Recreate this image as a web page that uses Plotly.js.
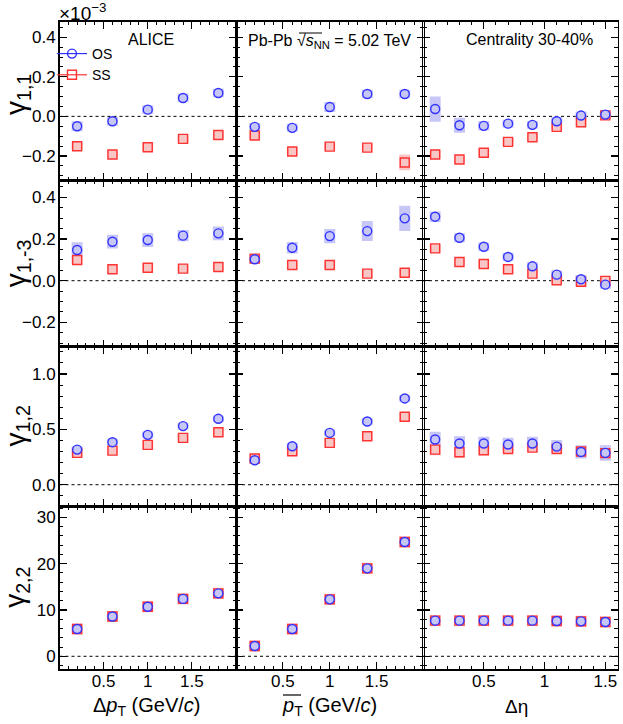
<!DOCTYPE html>
<html>
<head>
<meta charset="utf-8">
<script src="https://cdn.plot.ly/plotly-3.0.1.min.js"></script>
<style>html,body{margin:0;padding:0;background:#fff;}#chart{width:623px;height:724px;}</style>
</head>
<body>
<div id="chart"></div>
<script>
// ---------- data ----------
const xDpt  = [0.2, 0.6, 1.0, 1.4, 1.8];
const xPt   = [0.2, 0.6, 1.0, 1.4, 1.8];
const xDeta = [0.1, 0.3, 0.5, 0.7, 0.9, 1.1, 1.3, 1.5];

// gamma_{1,1} (x1e-3)
const g11DptOS  = [-0.050, -0.025, 0.034, 0.093, 0.118];
const g11DptOSsys = [0.025, 0.022, 0.022, 0.022, 0.022];
const g11DptSS  = [-0.151, -0.193, -0.156, -0.114, -0.094];
const g11DptSSsys = [0.02, 0.02, 0.02, 0.02, 0.02];
const g11PtOS   = [-0.053, -0.058, 0.047, 0.113, 0.113];
const g11PtOSsys = [0.02, 0.02, 0.025, 0.022, 0.022];
const g11PtSS   = [-0.097, -0.178, -0.153, -0.158, -0.233];
const g11PtSSsys = [0.02, 0.02, 0.02, 0.02, 0.04];
const g11DetaOS = [0.037, -0.045, -0.048, -0.037, -0.043, -0.025, 0.004, 0.009];
const g11DetaOSsys = [0.064, 0.038, 0.024, 0.02, 0.02, 0.02, 0.02, 0.02];
const g11DetaSS = [-0.193, -0.218, -0.184, -0.129, -0.106, -0.053, -0.030, 0.005];
const g11DetaSSsys = [0.02, 0.02, 0.02, 0.02, 0.02, 0.02, 0.023, 0.02];

// gamma_{1,-3}
const g13DptOS  = [0.147, 0.187, 0.195, 0.216, 0.227];
const g13DptOSsys = [0.038, 0.033, 0.033, 0.027, 0.033];
const g13DptSS  = [0.099, 0.055, 0.062, 0.058, 0.066];
const g13DptSSsys = [0.02, 0.02, 0.02, 0.02, 0.02];
const g13PtOS   = [0.103, 0.158, 0.214, 0.238, 0.299];
const g13PtOSsys = [0.02, 0.028, 0.034, 0.048, 0.061];
const g13PtSS   = [0.106, 0.075, 0.075, 0.034, 0.038];
const g13PtSSsys = [0.02, 0.02, 0.02, 0.02, 0.02];
const g13DetaOS = [0.307, 0.206, 0.163, 0.114, 0.069, 0.029, 0.007, -0.019];
const g13DetaOSsys = [0.025, 0.022, 0.02, 0.02, 0.02, 0.02, 0.02, 0.02];
const g13DetaSS = [0.155, 0.090, 0.080, 0.055, 0.034, 0.002, -0.005, -0.001];
const g13DetaSSsys = [0.02, 0.02, 0.02, 0.02, 0.02, 0.02, 0.02, 0.02];

// gamma_{1,2}
const g12DptOS  = [0.317, 0.384, 0.450, 0.529, 0.595];
const g12DptOSsys = [0.03, 0.03, 0.03, 0.03, 0.03];
const g12DptSS  = [0.287, 0.308, 0.360, 0.423, 0.474];
const g12DptSSsys = [0.04, 0.04, 0.04, 0.04, 0.04];
const g12PtOS   = [0.221, 0.347, 0.468, 0.571, 0.779];
const g12PtOSsys = [0.03, 0.03, 0.03, 0.03, 0.03];
const g12PtSS   = [0.236, 0.302, 0.378, 0.438, 0.613];
const g12PtSSsys = [0.04, 0.04, 0.04, 0.04, 0.04];
const g12DetaOS = [0.408, 0.372, 0.372, 0.363, 0.372, 0.344, 0.296, 0.287];
const g12DetaOSsys = [0.07, 0.065, 0.06, 0.06, 0.06, 0.06, 0.06, 0.07];
const g12DetaSS = [0.317, 0.293, 0.311, 0.323, 0.335, 0.323, 0.300, 0.285];
const g12DetaSSsys = [0.05, 0.05, 0.045, 0.04, 0.04, 0.04, 0.04, 0.04];

// gamma_{2,2}
const g22DptOS  = [5.9, 8.6, 10.7, 12.4, 13.6];
const g22DptSS  = [5.9, 8.6, 10.7, 12.4, 13.6];
const g22PtOS   = [2.23, 5.9, 12.3, 19.0, 24.7];
const g22PtSS   = [2.23, 5.9, 12.3, 19.0, 24.7];
const g22DetaOS = [7.7, 7.7, 7.7, 7.7, 7.7, 7.63, 7.55, 7.41];
const g22DetaSS = [7.7, 7.7, 7.7, 7.7, 7.7, 7.63, 7.55, 7.41];
const g22OSsys5 = [0.5, 0.5, 0.5, 0.5, 0.5];
const g22SSsys5 = [1.2, 1.2, 1.2, 1.2, 1.2];
const g22OSsys8 = [0.5, 0.5, 0.5, 0.5, 0.5, 0.5, 0.5, 0.5];
const g22SSsys8 = [1.2, 1.2, 1.2, 1.2, 1.2, 1.2, 1.2, 1.2];

const seriesNames = ['OS', 'SS'];
const yTitles = ['γ<sub>1,1</sub>', 'γ<sub>1,-3</sub>', 'γ<sub>1,2</sub>', 'γ<sub>2,2</sub>'];
const xTitles = ['Δ<i>p</i><sub>T</sub> (GeV/<i>c</i>)',
                 '<i>p</i><sub>T</sub> (GeV/<i>c</i>)',
                 'Δη'];
const xTickVals = [[0.5, 1, 1.5], [0.5, 1, 1.5], [0.5, 1, 1.5]];

// panels: [row][col]
const panels = [
  [ {x:xDpt, os:g11DptOS, osSys:g11DptOSsys, ss:g11DptSS, ssSys:g11DptSSsys},
    {x:xPt, os:g11PtOS, osSys:g11PtOSsys, ss:g11PtSS, ssSys:g11PtSSsys},
    {x:xDeta, os:g11DetaOS, osSys:g11DetaOSsys, ss:g11DetaSS, ssSys:g11DetaSSsys} ],
  [ {x:xDpt, os:g13DptOS, osSys:g13DptOSsys, ss:g13DptSS, ssSys:g13DptSSsys},
    {x:xPt, os:g13PtOS, osSys:g13PtOSsys, ss:g13PtSS, ssSys:g13PtSSsys},
    {x:xDeta, os:g13DetaOS, osSys:g13DetaOSsys, ss:g13DetaSS, ssSys:g13DetaSSsys} ],
  [ {x:xDpt, os:g12DptOS, osSys:g12DptOSsys, ss:g12DptSS, ssSys:g12DptSSsys},
    {x:xPt, os:g12PtOS, osSys:g12PtOSsys, ss:g12PtSS, ssSys:g12PtSSsys},
    {x:xDeta, os:g12DetaOS, osSys:g12DetaOSsys, ss:g12DetaSS, ssSys:g12DetaSSsys} ],
  [ {x:xDpt, os:g22DptOS, osSys:g22OSsys5, ss:g22DptSS, ssSys:g22SSsys5},
    {x:xPt, os:g22PtOS, osSys:g22OSsys5, ss:g22PtSS, ssSys:g22SSsys5},
    {x:xDeta, os:g22DetaOS, osSys:g22OSsys8, ss:g22DetaSS, ssSys:g22SSsys8} ]
];

// ---------- layout geometry (pixels) ----------
const W = 623, H = 724;
const FONT = 'Liberation Sans, Arial, Helvetica, sans-serif';
const rowsPx = [[21.7, 180], [180, 346.5], [346.5, 506.3], [506.3, 669.3]];
const colsPx = [[59.5, 236], [236, 423.5], [423, 617.5]];
const yRanges = [[-0.3218, 0.4786], [-0.3156, 0.483], [-0.195, 1.248], [-2.81, 32.4]];
const xRanges = [[0, 2], [0, 2], [0, 1.6]];
const yDtick = [0.2, 0.2, 0.5, 10];
const yMinor = [0.05, 0.05, 0.1, 2];
const yFmt = ['.1f', '.1f', '.1f', 'd'];

const blue = '#3232ff', red = '#ff3232';
const blueFill = '#c6c6f7', redFill = '#f9c6c6';

const px2x = p => p / W;
const px2y = p => 1 - p / H;

const layout = {
  width: W, height: H,
  margin: {l: 0, r: 0, t: 0, b: 0},
  paper_bgcolor: '#ffffff',
  plot_bgcolor: 'rgba(0,0,0,0)',
  font: {family: FONT, color: '#000', size: 16},
  showlegend: true,
  legend: {x: px2x(52), y: px2y(38), xanchor: 'left', yanchor: 'top',
           bgcolor: 'rgba(0,0,0,0)', font: {size: 14, family: FONT}, tracegroupgap: 0, itemwidth: 30},
  shapes: [], annotations: []
};

const boxTraces = [], ssTraces = [], osTraces = [];

for (let r = 0; r < 4; r++) {
  for (let c = 0; c < 3; c++) {
    const k = r * 3 + c;
    const sfx = k === 0 ? '' : String(k + 1);
    const xa = 'x' + sfx, ya = 'y' + sfx;
    layout['xaxis' + sfx] = {
      domain: [px2x(colsPx[c][0]), px2x(colsPx[c][1])],
      range: xRanges[c], anchor: ya,
      showline: true, linecolor: '#000', linewidth: 1.5, mirror: 'allticks',
      ticks: 'inside', ticklen: 7, tickwidth: 1.2, tickcolor: '#000',
      tickmode: 'array', tickvals: xTickVals[c],
      showticklabels: r === 3, tickfont: {size: 17, family: FONT},
      ticklabelstandoff: -4,
      showgrid: false, zeroline: false, fixedrange: true,
      minor: {ticks: 'inside', ticklen: 3.5, tickwidth: 1, tickcolor: '#000',
              tickmode: 'linear', tick0: 0, dtick: 0.1, showgrid: false}
    };
    layout['yaxis' + sfx] = {
      domain: [px2y(rowsPx[r][1]), px2y(rowsPx[r][0])],
      range: yRanges[r], anchor: xa,
      showline: true, linecolor: '#000', linewidth: 1.5, mirror: 'allticks',
      ticks: 'inside', ticklen: 7, tickwidth: 1.2, tickcolor: '#000',
      tickmode: 'linear', tick0: 0, dtick: yDtick[r], tickformat: yFmt[r],
      showticklabels: c === 0, tickfont: {size: 17, family: FONT},
      ticklabelstandoff: -1,
      showgrid: false, zeroline: false, fixedrange: true,
      minor: {ticks: 'inside', ticklen: 3.5, tickwidth: 1, tickcolor: '#000',
              tickmode: 'linear', tick0: 0, dtick: yMinor[r], showgrid: false}
    };
    layout.shapes.push({type: 'line', xref: xa + ' domain', yref: ya, x0: 0, x1: 1, y0: 0, y1: 0,
                        layer: 'below', line: {color: '#000', width: 1, dash: '3px,3px'}});
    const p = panels[r][c];
    boxTraces.push({x: p.x, y: p.ss, xaxis: xa, yaxis: ya, type: 'scatter', mode: 'markers',
      marker: {size: 1, opacity: 0}, showlegend: false, hoverinfo: 'skip',
      error_y: {type: 'data', array: p.ssSys, visible: true, color: redFill, thickness: 11, width: 0}});
    boxTraces.push({x: p.x, y: p.os, xaxis: xa, yaxis: ya, type: 'scatter', mode: 'markers',
      marker: {size: 1, opacity: 0}, showlegend: false, hoverinfo: 'skip',
      error_y: {type: 'data', array: p.osSys, visible: true, color: blueFill, thickness: 11, width: 0}});
    ssTraces.push({x: p.x, y: p.ss, xaxis: xa, yaxis: ya, type: 'scatter', mode: 'markers',
      name: seriesNames[1], legendgroup: 'SS', showlegend: false,
      marker: {symbol: 'square', size: 9, color: redFill, line: {color: red, width: 1.4}}});
    osTraces.push({x: p.x, y: p.os, xaxis: xa, yaxis: ya, type: 'scatter', mode: 'markers',
      name: seriesNames[0], legendgroup: 'OS', showlegend: false,
      marker: {symbol: 'circle', size: 9, color: blueFill, line: {color: blue, width: 1.4}}});
  }
  layout.annotations.push({xref: 'paper', yref: 'paper', x: px2x(17), y: px2y(r === 0 ? 95 : (rowsPx[r][0] + rowsPx[r][1]) / 2),
    xanchor: 'center', yanchor: 'middle', textangle: -90, showarrow: false,
    text: yTitles[r], font: {size: 28, family: FONT}});
}

// x titles
const xTitleCx = [147, 330, 516];
for (let c = 0; c < 3; c++) {
  layout.annotations.push({xref: 'paper', yref: 'paper', x: px2x(xTitleCx[c]), y: px2y(706),
    xanchor: 'center', yanchor: 'middle', showarrow: false,
    text: xTitles[c], font: {size: c === 2 ? 19 : 20, family: FONT}});
}
// overline bars (mean pT bar, sqrt bar)
layout.shapes.push({type: 'line', xref: 'paper', yref: 'paper', x0: px2x(283), x1: px2x(301),
  y0: px2y(695), y1: px2y(695), line: {color: '#000', width: 1.2}});

// panel texts
layout.annotations.push({xref: 'paper', yref: 'paper', x: px2x(57), y: px2y(12), xanchor: 'left', yanchor: 'middle',
  showarrow: false, text: '×10<sup>−3</sup>', font: {size: 19, family: FONT}});
layout.annotations.push({xref: 'paper', yref: 'paper', x: px2x(151), y: px2y(40), xanchor: 'center', yanchor: 'middle',
  showarrow: false, text: 'ALICE', font: {size: 16, family: FONT}});
layout.annotations.push({xref: 'paper', yref: 'paper', x: px2x(330), y: px2y(41), xanchor: 'center', yanchor: 'middle',
  showarrow: false, text: 'Pb-Pb √<i>s</i><sub>NN</sub> = 5.02 TeV',
  font: {size: 16, family: FONT}});
layout.shapes.push({type: 'line', xref: 'paper', yref: 'paper', x0: px2x(299), x1: px2x(322),
  y0: px2y(33), y1: px2y(33), line: {color: '#000', width: 1}});
layout.annotations.push({xref: 'paper', yref: 'paper', x: px2x(529), y: px2y(40), xanchor: 'center', yanchor: 'middle',
  showarrow: false, text: 'Centrality 30-40%', font: {size: 16, family: FONT}});

// legend entries
const legendTraces = [
  {x: [null], y: [null], xaxis: 'x', yaxis: 'y', type: 'scatter', mode: 'lines+markers', name: seriesNames[0],
   line: {color: blue, width: 1.2}, marker: {symbol: 'circle-open', size: 9, color: blue, line: {width: 1.4}}},
  {x: [null], y: [null], xaxis: 'x', yaxis: 'y', type: 'scatter', mode: 'lines+markers', name: seriesNames[1],
   line: {color: red, width: 1.2}, marker: {symbol: 'square-open', size: 9, color: red, line: {width: 1.4}}}
];

Plotly.newPlot('chart', boxTraces.concat(ssTraces, osTraces, legendTraces), layout,
               {staticPlot: true, displayModeBar: false});
</script>
</body>
</html>
